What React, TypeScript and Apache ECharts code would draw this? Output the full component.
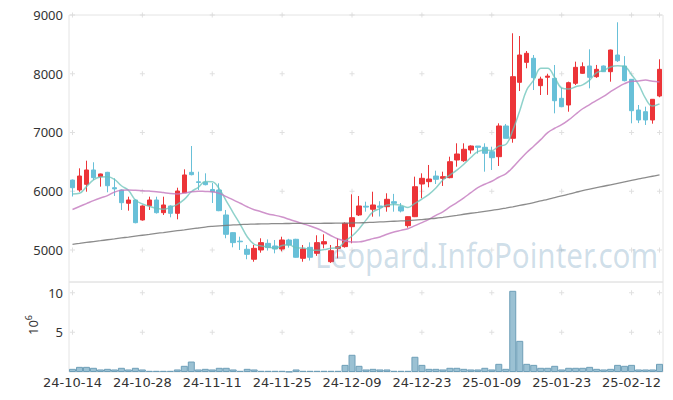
import React, { useEffect, useRef } from "react";
import * as echarts from "echarts";

const dates = [
  "24-10-14", "24-10-15", "24-10-16", "24-10-17", "24-10-18", "24-10-21", "24-10-22", "24-10-23", "24-10-24", "24-10-25",
  "24-10-28", "24-10-29", "24-10-30", "24-10-31", "24-11-01", "24-11-04", "24-11-05", "24-11-06", "24-11-07", "24-11-08",
  "24-11-11", "24-11-12", "24-11-13", "24-11-14", "24-11-15", "24-11-18", "24-11-19", "24-11-20", "24-11-21", "24-11-22",
  "24-11-25", "24-11-26", "24-11-27", "24-11-28", "24-11-29", "24-12-02", "24-12-03", "24-12-04", "24-12-05", "24-12-06",
  "24-12-09", "24-12-10", "24-12-11", "24-12-12", "24-12-13", "24-12-16", "24-12-17", "24-12-18", "24-12-19", "24-12-20",
  "24-12-23", "24-12-24", "24-12-26", "24-12-27", "24-12-30", "25-01-02", "25-01-03", "25-01-06", "25-01-07", "25-01-08",
  "25-01-09", "25-01-10", "25-01-13", "25-01-14", "25-01-15", "25-01-16", "25-01-17", "25-01-20", "25-01-21", "25-01-22",
  "25-01-23", "25-01-24", "25-01-31", "25-02-03", "25-02-04", "25-02-05", "25-02-06", "25-02-07", "25-02-10", "25-02-11",
  "25-02-12", "25-02-13", "25-02-14", "25-02-17", "25-02-18",
];

const opens = [
  6190, 6021, 6118, 6362, 6248, 6322, 6060, 6021, 5795, 5851,
  5511, 5754, 5851, 5635, 5749, 5624, 5975, 6322, 6160, 6152,
  6030, 6021, 5596, 5295, 5150, 5012, 4842, 5000, 5113, 5068,
  5017, 5170, 5182, 4858, 5045, 4943, 5102, 4801, 5028, 5057,
  5397, 5596, 5745, 5693, 5749, 5737, 5822, 5737, 5414, 5567,
  6123, 6163, 6259, 6220, 6231, 6532, 6520, 6702, 6770, 6748,
  6673, 6588, 7111, 6901, 7854, 8194, 8263, 7797, 7940, 7922,
  7582, 7468, 7837, 8007, 8132, 7950, 8132, 8035, 8319, 8132,
  7905, 7383, 7354, 7213, 7621,
];

const closes = [
  6060, 6259, 6362, 6231, 6294, 6094, 6040, 5805, 5851, 5465,
  5749, 5851, 5635, 5766, 5624, 6004, 6277, 6282, 6150, 6112,
  5990, 5669, 5267, 5125, 5140, 4926, 5028, 5125, 5040, 5017,
  5170, 5085, 4876, 5017, 4876, 5125, 5142, 4988, 5056, 5454,
  5550, 5749, 5730, 5766, 5727, 5863, 5795, 5664, 5567, 6077,
  6220, 6208, 6203, 6248, 6503, 6634, 6714, 6770, 6748, 6646,
  6571, 7111, 6901, 7950, 8319, 8348, 7933, 7910, 7960, 7541,
  7439, 7848, 8109, 8120, 7939, 8075, 8035, 8404, 8222, 7882,
  7371, 7213, 7213, 7565, 8075,
];

const lows = [
  5910, 5990, 5992, 6190, 6078, 5982, 5919, 5681, 5669, 5454,
  5500, 5681, 5620, 5596, 5556, 5522, 5970, 6270, 6021, 6100,
  5800, 5660, 5199, 5045, 5000, 4842, 4800, 4954, 4990, 4943,
  4977, 5040, 4870, 4800, 4820, 4900, 5028, 4780, 4858, 5040,
  5114, 5579, 5652, 5567, 5570, 5652, 5652, 5640, 5380, 5560,
  5880, 6067, 6123, 6090, 6220, 6418, 6500, 6640, 6640, 6333,
  6362, 6430, 6900, 6826, 7706, 8093, 7723, 7638, 7640, 7326,
  7430, 7354, 7808, 8000, 7752, 7930, 8030, 7865, 8200, 7870,
  7156, 7160, 7128, 7150, 7600,
];

const highs = [
  6200, 6390, 6520, 6493, 6300, 6330, 6220, 6030, 5907, 5860,
  5760, 5907, 5907, 5907, 5760, 6060, 6373, 6770, 6333, 6305,
  6140, 6135, 5681, 5300, 5226, 5085, 5085, 5199, 5180, 5170,
  5226, 5190, 5190, 5085, 5130, 5250, 5267, 5085, 5199, 5470,
  5948, 5919, 5822, 5992, 5830, 5965, 5955, 5800, 5570, 6248,
  6305, 6447, 6350, 6333, 6588, 6816, 6816, 6780, 6770, 6816,
  6758, 7156, 7145, 8689, 8642, 8387, 8319, 7950, 8000, 8149,
  7760, 7865, 8206, 8194, 8416, 8150, 8140, 8410, 8876, 8300,
  7910, 7468, 7440, 7570, 8246,
];

// volume in units of 10^6
const volumes = [
  0.40, 0.65, 0.65, 0.53, 0.32, 0.40, 0.32, 0.53, 0.32, 0.53,
  0.32, 0.15, 0.15, 0.15, 0.15, 0.32, 0.78, 1.32, 0.32, 0.40,
  0.32, 0.53, 0.53, 0.32, 0.15, 0.40, 0.32, 0.15, 0.15, 0.15,
  0.15, 0.05, 0.32, 0.15, 0.15, 0.15, 0.15, 0.15, 0.15, 0.90,
  2.17, 0.78, 0.32, 0.40, 0.32, 0.32, 0.15, 0.15, 0.15, 1.92,
  0.90, 0.40, 0.40, 0.32, 0.53, 0.53, 0.40, 0.32, 0.32, 0.53,
  0.32, 1.03, 0.40, 10.24, 3.93, 1.03, 0.90, 0.53, 0.53, 0.78,
  0.32, 0.53, 0.53, 0.53, 0.65, 0.40, 0.32, 0.40, 0.90, 0.78,
  0.90, 0.32, 0.32, 0.32, 1.03,
];

const ma5 = [
  5955, 5965, 6078, 6195, 6241, 6248, 6204, 6093, 6017, 5851,
  5782, 5744, 5710, 5693, 5725, 5776, 5861, 5991, 6067, 6165,
  6162, 6041, 5838, 5633, 5438, 5225, 5097, 5069, 5052, 5027,
  5076, 5087, 5038, 5033, 5005, 4996, 5007, 5030, 5037, 5153,
  5238, 5359, 5508, 5650, 5704, 5767, 5776, 5763, 5723, 5793,
  5865, 5947, 6055, 6191, 6276, 6359, 6460, 6574, 6674, 6702,
  6690, 6769, 6795, 7036, 7370, 7726, 7890, 8092, 8094, 7938,
  7757, 7740, 7779, 7811, 7891, 8018, 8056, 8115, 8135, 8124,
  7983, 7818, 7580, 7449, 7487,
];

const ma20 = [
  5690, 5740, 5790, 5840, 5885, 5925, 5985, 6015, 6020, 6015,
  6008, 6002, 5993, 5978, 5962, 5955, 5968, 5990, 6000, 5996,
  5992, 5963, 5908, 5853, 5795, 5736, 5686, 5652, 5611, 5589,
  5560, 5522, 5484, 5446, 5409, 5365, 5308, 5243, 5188, 5156,
  5134, 5138, 5161, 5193, 5222, 5269, 5307, 5334, 5361, 5414,
  5466, 5522, 5589, 5650, 5732, 5807, 5886, 5975, 6060, 6119,
  6170, 6238, 6297, 6406, 6536, 6660, 6767, 6879, 6999, 7072,
  7133, 7215, 7310, 7404, 7476, 7548, 7614, 7695, 7769, 7831,
  7871, 7876, 7892, 7872, 7860,
];

const ma60 = [
  5097, 5112, 5128, 5143, 5158, 5174, 5189, 5205, 5220, 5236,
  5251, 5266, 5282, 5297, 5313, 5328, 5343, 5359, 5374, 5390,
  5402, 5412, 5420, 5426, 5432, 5437, 5441, 5444, 5446, 5448,
  5450, 5451, 5452, 5453, 5454, 5454, 5455, 5455, 5456, 5457,
  5459, 5462, 5466, 5471, 5477, 5483, 5489, 5495, 5500, 5508,
  5518, 5529, 5540, 5556, 5573, 5590, 5608, 5625, 5641, 5658,
  5675, 5692, 5713, 5735, 5758, 5782, 5806, 5835, 5862, 5892,
  5921, 5950, 5980, 6010, 6035, 6060, 6085, 6110, 6135, 6160,
  6185, 6210, 6232, 6255, 6278,
];

const priceTicks = [5000, 6000, 7000, 8000, 9000];
const volumeTicks = [5, 10];
const crossIndices = [0, 10, 20, 30, 40, 50, 60, 70, 80, 84];

const UP = "#ec3438";
const DOWN = "#68c0d8";
const FONT = "Noto Sans";
const XFONT = "DejaVu Sans";
const CROSS = "path://M0,2h5v1h-5z M2,0h1v5h-1z";

export default function App() {
  const ref = useRef<HTMLDivElement>(null);

  useEffect(() => {
    const chart = echarts.init(ref.current as HTMLDivElement, null, { renderer: "svg" });
    const candles = dates.map((_, i) => [opens[i], closes[i], lows[i], highs[i]]);
    const priceCross: any[] = [];
    crossIndices.forEach((ci) => priceTicks.forEach((t) => priceCross.push([dates[ci], t])));
    const volCross: any[] = [];
    crossIndices.forEach((ci) => volumeTicks.forEach((t) => volCross.push([dates[ci], t])));

    const option: any = {
      animation: false,
      backgroundColor: "#ffffff",
      textStyle: { fontFamily: FONT },
      grid: [
        { left: 69, right: 10, top: 15, height: 267, show: true, borderColor: "#e4e4e4", borderWidth: 1, backgroundColor: "transparent" },
        { left: 69, right: 10, top: 282, height: 90, show: true, borderColor: "#e4e4e4", borderWidth: 1, backgroundColor: "transparent" },
      ],
      xAxis: [
        {
          type: "category", gridIndex: 0, data: dates, boundaryGap: true,
          axisLine: { show: false }, axisTick: { show: false }, axisLabel: { show: false }, splitLine: { show: false },
        },
        {
          type: "category", gridIndex: 1, data: dates, boundaryGap: true,
          axisLine: { show: false }, axisTick: { show: false }, splitLine: { show: false },
          axisLabel: { interval: 9, color: "#333", fontSize: 13, fontFamily: XFONT, margin: 4 },
        },
      ],
      yAxis: [
        {
          type: "value", gridIndex: 0, min: 4455, max: 9000, minInterval: 1000, maxInterval: 1000,
          axisLine: { show: false }, axisTick: { show: false }, splitLine: { show: false },
          axisLabel: {
            color: "#333", fontSize: 13, fontFamily: FONT, margin: 6, showMinLabel: false,
            formatter: (v: number) => String(v),
          },
        },
        {
          type: "value", gridIndex: 1, min: 0, max: 11.35, minInterval: 5, maxInterval: 5,
          axisLine: { show: false }, axisTick: { show: false }, splitLine: { show: false },
          axisLabel: {
            color: "#333", fontSize: 13, fontFamily: FONT, margin: 6, showMinLabel: false, showMaxLabel: false,
            formatter: (v: number) => String(v),
          },
        },
      ],
      series: [
        {
          type: "scatter", xAxisIndex: 0, yAxisIndex: 0, data: priceCross, symbol: CROSS, symbolSize: 5,
          itemStyle: { color: "#d8d8d8" }, silent: true, z: 1,
        },
        {
          type: "scatter", xAxisIndex: 1, yAxisIndex: 1, data: volCross, symbol: CROSS, symbolSize: 5,
          itemStyle: { color: "#d8d8d8" }, silent: true, z: 1,
        },
        {
          type: "candlestick", name: "price", xAxisIndex: 0, yAxisIndex: 0, data: candles, barWidth: 5,
          itemStyle: { color: UP, color0: DOWN, borderColor: UP, borderColor0: DOWN, borderWidth: 1 },
          z: 3,
        },
        {
          type: "line", name: "MA5", xAxisIndex: 0, yAxisIndex: 0, data: ma5, smooth: 0.4, showSymbol: false,
          lineStyle: { color: "rgba(105,195,185,0.75)", width: 1.5 }, z: 4,
        },
        {
          type: "line", name: "MA20", xAxisIndex: 0, yAxisIndex: 0, data: ma20, smooth: 0.4, showSymbol: false,
          lineStyle: { color: "rgba(195,120,190,0.8)", width: 1.5 }, z: 4,
        },
        {
          type: "line", name: "MA60", xAxisIndex: 0, yAxisIndex: 0, data: ma60, smooth: 0.4, showSymbol: false,
          lineStyle: { color: "rgba(120,120,120,0.85)", width: 1.3 }, z: 4,
        },
        {
          type: "bar", name: "volume", xAxisIndex: 1, yAxisIndex: 1, data: volumes, barCategoryGap: "0%",
          itemStyle: { color: "#9bc1d3", borderColor: "#6e9fb8", borderWidth: 1 }, z: 3,
        },
      ],
      graphic: [
        {
          type: "text", x: 315, y: 255, scaleX: 0.87, z: 100, silent: true,
          style: {
            text: "Leopard.InfoPointer.com", font: `34px '${FONT}'`, fill: "rgba(70,130,170,0.26)",
            align: "left", verticalAlign: "middle",
          },
        },
        {
          type: "text", x: 33, y: 325, rotation: Math.PI / 2, z: 100, silent: true,
          style: {
            text: "{a|10}{b|6}", align: "center", verticalAlign: "middle",
            rich: {
              a: { fontSize: 13, fontFamily: FONT, fill: "#333", color: "#333" } as any,
              b: { fontSize: 9, fontFamily: FONT, fill: "#333", color: "#333", verticalAlign: "top", lineHeight: 18 } as any,
            },
          },
        },
      ],
    };
    chart.setOption(option);
    return () => chart.dispose();
  }, []);

  return <div ref={ref} style={{ position: "fixed", left: 0, top: 0, width: 673, height: 400 }} />;
}
